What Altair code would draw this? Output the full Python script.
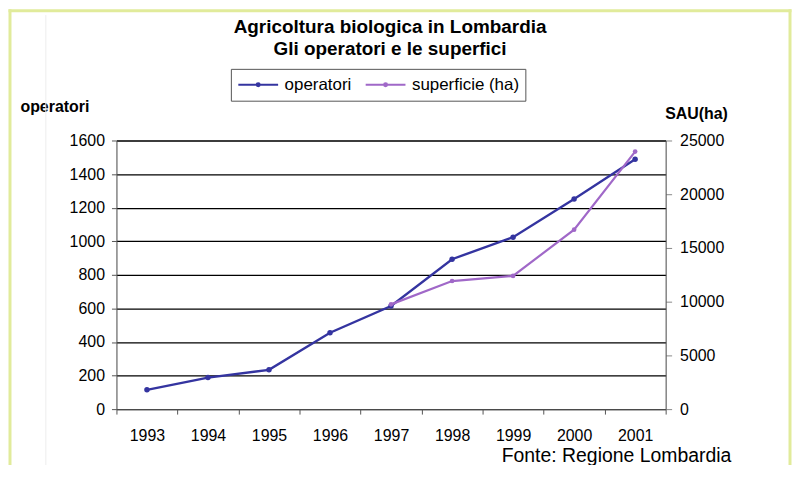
import altair as alt
import pandas as pd

anni = ["1993", "1994", "1995", "1996", "1997", "1998", "1999", "2000", "2001"]
operatori = [115, 188, 234, 455, 614, 893, 1024, 1252, 1488]
anni_sup = ["1997", "1998", "1999", "2000", "2001"]
superficie = [9750, 11920, 12400, 16700, 23970]

serie = ["operatori", "superficie (ha)"]
colori = ["#3434A0", "#A068C8"]

titolo = ["Agricoltura biologica in Lombardia", "Gli operatori e le superfici"]
fonte_testo = "Fonte: Regione Lombardia"

df_op = pd.DataFrame({"anno": anni, "operatori": operatori, "serie": serie[0]})
df_sup = pd.DataFrame({"anno": anni_sup, "superficie": superficie, "serie": serie[1]})

FONT = "Liberation Sans"
W, H = 552, 270

x_enc = alt.X(
    "anno:O",
    scale=alt.Scale(type="band", domain=anni, paddingInner=0, paddingOuter=0),
    axis=alt.Axis(
        title=None, labelAngle=0, tickBand="extent", tickSize=5,
        labelPadding=14, labelFontSize=16, labelColor="black",
        domainColor="#555555", tickColor="#555555", labelFont=FONT,
    ),
)

sym = "M-1,0H1M-0.07,0A0.07,0.07,0,1,1,0.07,0A0.07,0.07,0,1,1,-0.07,0Z"

color_enc = alt.Color(
    "serie:N",
    scale=alt.Scale(domain=serie, range=colori),
    legend=alt.Legend(
        title=None, orient="none", legendX=115, legendY=-72, direction="horizontal",
        symbolType=sym, symbolSize=1600, symbolStrokeWidth=2.2, clipHeight=20,
        labelFontSize=17, labelFont=FONT, labelColor="black", labelOffset=5,
        columnPadding=12, padding=6, strokeColor="#555555", fillColor="white",
    ),
)

line_op = alt.Chart(df_op).mark_line(
    strokeWidth=2.4, point=alt.OverlayMarkDef(filled=True, size=30)
).encode(
    x=x_enc,
    y=alt.Y(
        "operatori:Q",
        scale=alt.Scale(domain=[0, 1600], nice=False),
        axis=alt.Axis(
            title="operatori", titleAngle=0, titleAlign="left", titleBaseline="middle",
            titleX=-97, titleY=-34, titleFontSize=16, titleFontWeight="bold", titleFont=FONT,
            titleColor="black", format="d",
            values=[0, 200, 400, 600, 800, 1000, 1200, 1400, 1600],
            grid=True, gridColor="black", gridWidth=1.3, tickSize=5, labelPadding=7,
            labelFontSize=16, labelFont=FONT, labelColor="black",
            domainColor="#555555", tickColor="#555555",
        ),
    ),
    color=color_enc,
)

line_sup = alt.Chart(df_sup).mark_line(
    strokeWidth=2.2, point=alt.OverlayMarkDef(filled=True, size=22)
).encode(
    x=x_enc,
    y=alt.Y(
        "superficie:Q",
        scale=alt.Scale(domain=[0, 25000], nice=False),
        axis=alt.Axis(
            orient="right", title="SAU(ha)", titleAngle=0, titleAlign="left",
            titleBaseline="middle", titleX=-1, titleY=-27, titleFontSize=16,
            titleFontWeight="bold", titleFont=FONT, titleColor="black", format="d",
            values=[0, 5000, 10000, 15000, 20000, 25000], grid=False,
            tickSize=6, labelPadding=8, labelFontSize=16, labelFont=FONT,
            labelColor="black", domainColor="#555555", tickColor="#888888",
        ),
    ),
    color=color_enc,
)

BORDER = "#E1EB9B"
bordo_sx = alt.Chart().mark_rule(color=BORDER, strokeWidth=3).encode(
    x=alt.value(-107), y=alt.value(-132), y2=alt.value(340))
bordo_dx = alt.Chart().mark_rule(color=BORDER, strokeWidth=3).encode(
    x=alt.value(677), y=alt.value(-132), y2=alt.value(340))
bordo_su = alt.Chart().mark_rule(color=BORDER, strokeWidth=3).encode(
    x=alt.value(-108.5), x2=alt.value(678.5), y=alt.value(-130.5))
linea_grigia = alt.Chart().mark_rule(color="#EEEEEE", strokeWidth=1).encode(
    x=alt.value(-71), y=alt.value(-126), y2=alt.value(340))

titolo1 = alt.Chart().mark_text(
    text=titolo[0], align="center", baseline="middle",
    fontSize=19, fontWeight="bold", font=FONT, color="black",
).encode(x=alt.value(275), y=alt.value(-114))
titolo2 = alt.Chart().mark_text(
    text=titolo[1], align="center", baseline="middle",
    fontSize=19, fontWeight="bold", font=FONT, color="black",
).encode(x=alt.value(275), y=alt.value(-92))

fonte = alt.Chart().mark_text(
    text=fonte_testo, align="right", baseline="middle",
    fontSize=19.5, font=FONT, color="black",
).encode(x=alt.value(618), y=alt.value(317))

chart = alt.layer(
    bordo_sx, bordo_dx, bordo_su, linea_grigia, titolo1, titolo2, fonte, line_op, line_sup
).resolve_scale(y="independent").properties(
    width=W, height=H,
    autosize=alt.AutoSizeParams(type="none"),
    padding={"left": 109, "top": 132, "right": 127, "bottom": 55},
).configure_view(fill="#B9C1C8", stroke=None).configure(background="white")

chart.save("out.html", embed_options={"renderer": "svg", "actions": False})
